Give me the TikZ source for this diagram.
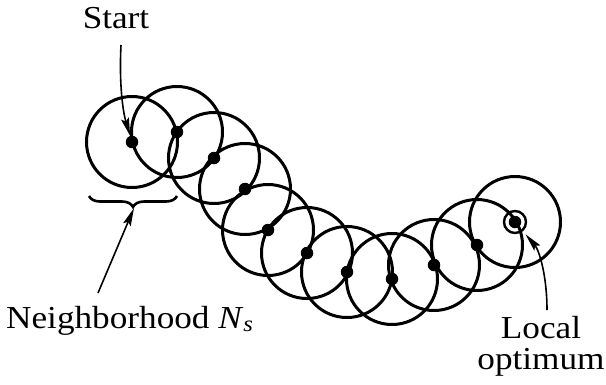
\documentclass[tikz,border=0pt]{standalone}
\usepackage{fontspec}
\setmainfont[FakeStretch=1.1]{Liberation Serif}
\usetikzlibrary{arrows.meta,decorations.pathreplacing}
\begin{document}
\begin{tikzpicture}[x=1pt,y=-1pt,
  ring/.style={line width=3pt},
  dot/.style={circle,fill=black,inner sep=0pt,minimum size=12.5pt},
  optring/.style={circle,draw=black,line width=2.4pt,inner sep=0pt,minimum size=22pt},
  arr/.style={line width=1.6pt,-{Stealth[length=18pt,width=8pt,inset=3pt]}},
  lbl/.style={font=\fontsize{32}{31}\selectfont,inner sep=0pt,anchor=base},
  bracestyle/.style={line width=2.6pt,decorate,decoration={brace,amplitude=11pt}}]
\useasboundingbox (0,0) rectangle (606,384);
% centers of the neighborhoods
\node[dot] (d1) at (132,142) {};
\node[dot] (d2) at (177,132) {};
\node[dot] (d3) at (214,158) {};
\node[dot] (d4) at (245,189) {};
\node[dot] (d5) at (268,230) {};
\node[dot] (d6) at (307,253) {};
\node[dot] (d7) at (347,272) {};
\node[dot] (d8) at (392,279) {};
\node[dot] (d9) at (434,265) {};
\node[dot] (d10) at (477,245) {};
\node[dot] (d11) at (515,222) {};
\node[optring] (opt) at (515,222) {};
% neighborhoods
\foreach \i in {1,...,11} {\draw[ring] (d\i) circle (45.5pt);}
% labels
\node[lbl] (start) at (116,28) {Start};
\node[lbl,anchor=base west] (nbh) at (6,328) {Neighborhood \textit{N}\textsubscript{\textit{s}}};
\node[lbl,align=center] (localopt) at (541,369) {Local\\optimum};
% brace under the first neighborhood
\coordinate (br) at (177,196);
\coordinate (bl) at (89,196);
\coordinate (bt) at (134,208);
\draw[bracestyle] (br) -- (bl);
% arrows
\coordinate (sa) at (121,45);
\draw[arr] (sa) .. controls (119,85) and (123,112) .. (d1);
\coordinate (na) at (98,293);
\draw[arr] (na) -- (bt);
\coordinate (la) at (547,310);
\draw[arr,shorten >=4pt] (la) .. controls (547,275) and (539,250) .. (opt);
\end{tikzpicture}
\end{document}
